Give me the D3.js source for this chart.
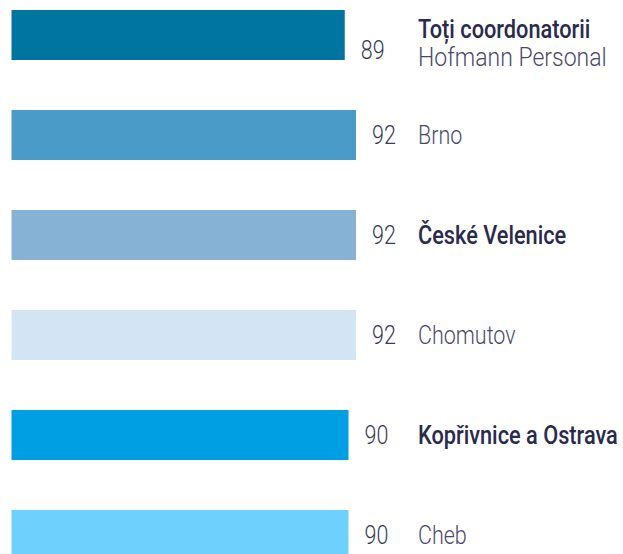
<!DOCTYPE html>
<html>
<head>
<meta charset="utf-8">
<script src="https://cdn.jsdelivr.net/npm/d3@7"></script>
<style>
  body { margin: 0; background: #fff; }
  text { font-family: Roboto, "Noto Sans", sans-serif; }
</style>
</head>
<body>
<div id="chart-area"></div>
<script>
// data
const categories = ["Toți coordonatorii", "Brno", "České Velenice", "Chomutov", "Kopřivnice a Ostrava", "Cheb"]
const subtitles = ["Hofmann Personal", "", "", "", "", ""]
const values = [89, 92, 92, 92, 90, 90]

// style
const barColors = ["#0075a2", "#4a9bc8", "#86b2d6", "#d3e4f5", "#009fe3", "#6dd0fd"]
const boldLabels = new Set(["Toți coordonatorii", "České Velenice", "Kopřivnice a Ostrava"])
const squeeze = 0.86
const squeezeBold = 0.87

const width = 623
const height = 554

const svg = d3.select("#chart-area").append("svg")
  .attr("width", width)
  .attr("height", height)

const data = categories.map((c, i) => ({ name: c, sub: subtitles[i], value: values[i], color: barColors[i] }))

const x = d3.scaleLinear()
  .domain([0, d3.max(values)])
  .range([11.5, 356])

const y = d3.scaleBand()
  .domain(categories)
  .range([10, 560])
  .paddingInner(0.5)
  .paddingOuter(0)

const rows = svg.selectAll("g.row")
  .data(data)
  .enter().append("g")
  .attr("class", "row")

rows.append("rect")
  .attr("x", x(0))
  .attr("y", d => y(d.name))
  .attr("width", d => x(d.value) - x(0))
  .attr("height", y.bandwidth())
  .attr("fill", d => d.color)

// value labels, just right of the bar
rows.append("text")
  .attr("transform", d => {
    const cy = y(d.name) + y.bandwidth() / 2 + (d.sub ? 24 : 9)
    return `translate(${x(d.value) + 16}, ${cy}) scale(${squeeze}, 1)`
  })
  .attr("font-size", "25px")
  .attr("font-weight", 300)
  .attr("fill", "#3a3a58")
  .text(d => d.value)

// category labels
rows.append("text")
  .attr("transform", d => {
    const bold = boldLabels.has(d.name)
    const cy = y(d.name) + y.bandwidth() / 2 + (d.sub ? 2.5 : 9)
    return `translate(418, ${cy}) scale(${bold ? squeezeBold : squeeze}, 1)`
  })
  .attr("font-size", "25px")
  .attr("font-weight", d => boldLabels.has(d.name) ? 500 : 300)
  .attr("fill", d => boldLabels.has(d.name) ? "#2a2a4c" : "#4a4a68")
  .text(d => d.name)

rows.filter(d => d.sub).append("text")
  .attr("transform", d => {
    const cy = y(d.name) + y.bandwidth() / 2 + 30.5
    return `translate(418, ${cy}) scale(0.92, 1)`
  })
  .attr("font-size", "25px")
  .attr("font-weight", 300)
  .attr("fill", "#4a4a68")
  .text(d => d.sub)
</script>
</body>
</html>
